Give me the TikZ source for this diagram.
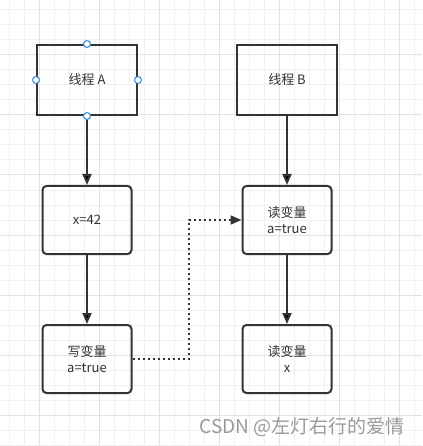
\documentclass[tikz,border=0pt]{standalone}
\usepackage{fontspec}
\setmainfont{Noto Sans CJK SC}
\usetikzlibrary{arrows.meta,positioning}
\definecolor{inkgray}{HTML}{333333}
\definecolor{gridminor}{HTML}{F0F0F0}
\definecolor{gridmajor}{HTML}{E2E2E2}
\definecolor{handleblue}{HTML}{2F88E8}
\definecolor{markgray}{HTML}{9A9A9A}

\begin{document}
\begin{tikzpicture}[x=1pt, y=-1pt, node distance=69pt,
    thread node/.style={rectangle, draw=inkgray, line width=2pt, minimum width=100pt, minimum height=70pt, inner sep=0pt, text=inkgray, font=\fontsize{13}{16}\selectfont},
    task node/.style={thread node, rounded corners=4pt, minimum width=89pt, minimum height=68pt, align=center},
    handle/.style={circle, draw=handleblue, fill=white, line width=1pt, minimum size=7pt, inner sep=0pt},
    flow/.style={-{Triangle[length=11pt,width=9pt]}, draw=inkgray, line width=2pt},
    sync/.style={flow, dash pattern=on 2pt off 3pt}]
  \useasboundingbox[fill=white] (0,0) rectangle (422,446);

  % grid
  \foreach \gx in {0,...,27}
    \draw[gridminor, line width=1pt] ({9.5+15*\gx},0) -- ++(0,446);
  \foreach \gy in {0,...,29}
    \draw[gridminor, line width=1pt] (0,{10+15*\gy}) -- ++(422,0);
  \foreach \gk in {0,...,6} {
    \draw[gridmajor, line width=1pt] ({39.5+60*\gk},0) -- ++(0,446);
    \draw[gridmajor, line width=1pt] (0,{55+60*\gk}) -- ++(422,0);
  }

  \node[thread node] (threadA) at (87,80) {线程 A};
  \node[thread node] (threadB) [right=98pt of threadA] {线程 B};
  \node[task node] (setX) [below=of threadA] {x=42};
  \node[task node] (writeA) [below=of setX] {写变量\\a=true};
  \node[task node] (readA) [below=of threadB] {读变量\\a=true};
  \node[task node] (readX) [below=of readA] {读变量\\x};

  \path[flow]
    (threadA) edge (setX)
    (setX) edge (writeA)
    (threadB) edge (readA)
    (readA) edge (readX);

  \coordinate (syncBend) at ([xshift=56pt]writeA.east);
  \draw[sync] (writeA.east) -- (syncBend) |- (readA.west);

  \foreach \side in {north,west,east,south}
    \node[handle] (handleA-\side) at (threadA.\side) {};

  \node[text=markgray, font=\fontsize{19}{19}\selectfont, anchor=east] (mark) at (408,427) {CSDN @左灯右行的爱情};
\end{tikzpicture}
\end{document}
